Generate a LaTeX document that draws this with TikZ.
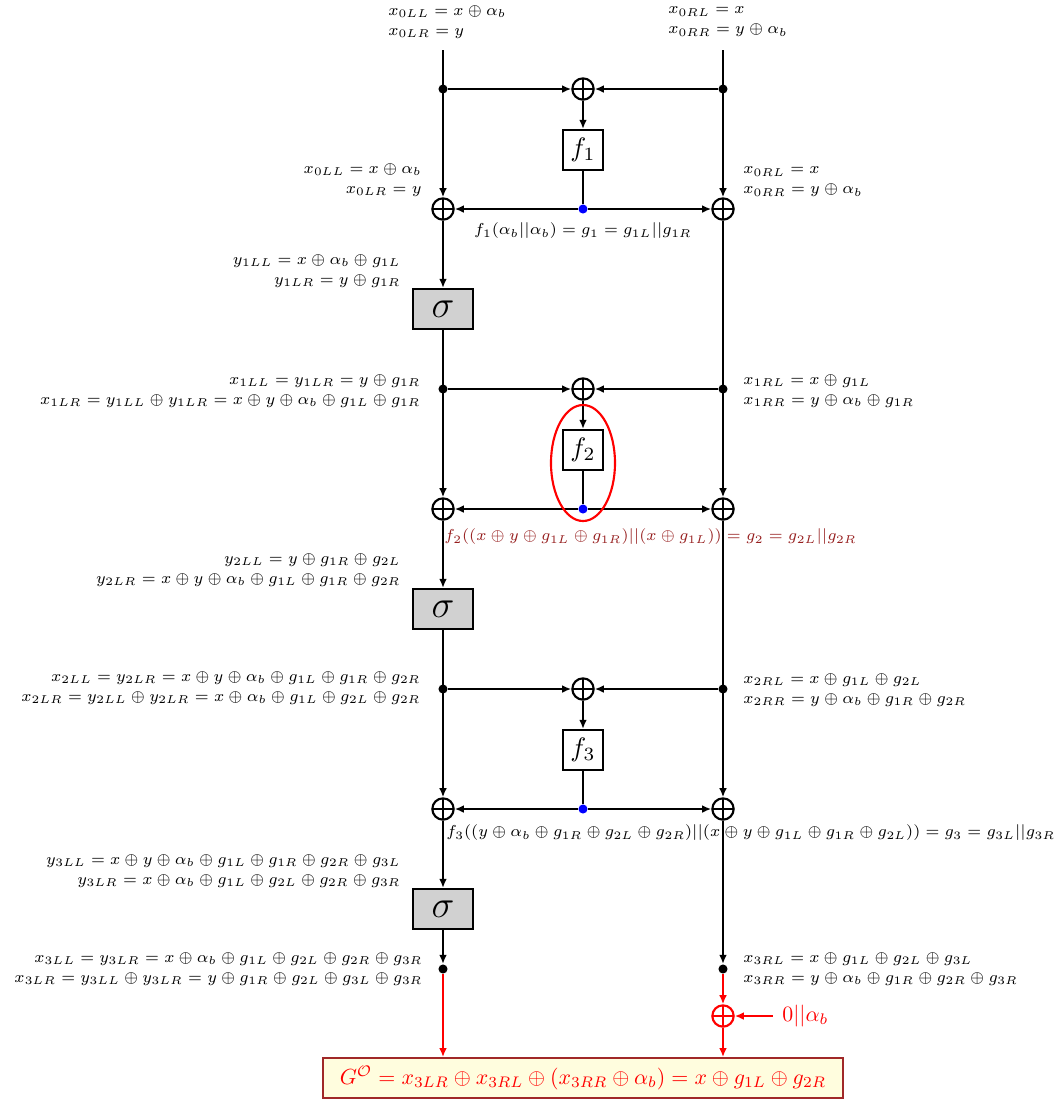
\documentclass[tikz,border=0pt]{standalone}
\usepackage{amsmath,amssymb}
\usetikzlibrary{arrows.meta,positioning,calc}
\definecolor{darkred}{RGB}{150,30,30}
\definecolor{boxred}{RGB}{160,40,40}
\definecolor{cream}{RGB}{255,253,222}
\tikzset{
  arr/.style={-{Latex[length=3.4pt,width=2.9pt]},thick},
  xorn/.style={circle,draw,thick,minimum size=8pt,inner sep=0pt,
    path picture={\draw[thick] (path picture bounding box.north)--(path picture bounding box.south)
      (path picture bounding box.west)--(path picture bounding box.east);}},
  fbox/.style={draw,thick,fill=white,minimum size=15pt,inner sep=1pt},
  sbox/.style={draw,thick,fill=black!18,minimum width=22.5pt,minimum height=15pt,inner sep=0pt,font=\Large},
  dot/.style={circle,fill=black,inner sep=0pt,minimum size=3.4pt},
  bdot/.style={circle,fill=blue,inner sep=0pt,minimum size=3.4pt},
  lab/.style={font=\fontsize{7}{8.8}\selectfont,scale=0.85,transform shape,inner sep=0pt},
  big/.style={scale=0.82,transform shape}
}
\begin{document}
\begin{tikzpicture}[x=0.375pt,y=-0.375pt]
  \useasboundingbox (0,0) rectangle (1062,1099);
  \coordinate (tl) at (443,50);
  \coordinate (tr) at (723,50);
  % one round per Feistel layer
  \foreach \i in {1,2,3}{
    \pgfmathsetmacro{\y}{300*(\i-1)}
    \node[dot] (dl\i) at (443,89+\y) {};
    \node[dot] (dr\i) at (723,89+\y) {};
    \node[xorn] (xm\i) at (583,89+\y) {};
    \node[fbox] (f\i) at (583,150+\y) {$f_\i$};
    \node[bdot] (b\i) at (583,209+\y) {};
    \node[xorn] (xl\i) at (443,209+\y) {};
    \node[xorn] (xr\i) at (723,209+\y) {};
    \node[sbox] (s\i) at (443,309+\y) {$\sigma$};
    \draw[arr] (dl\i) -- (xm\i);
    \draw[arr] (dr\i) -- (xm\i);
    \draw[arr] (xm\i) -- (f\i);
    \draw[thick] (f\i) -- (b\i);
    \draw[arr] (b\i) -- (xl\i);
    \draw[arr] (b\i) -- (xr\i);
  }
  \node[dot] (dl4) at (443,969) {};
  \node[dot] (dr4) at (723,969) {};
  % columns
  \draw[arr] (tl) -- (xl1);
  \draw[arr] (tr) -- (xr1);
  \foreach \i [count=\j from 2] in {1,2}{
    \draw[arr] (xl\i) -- (s\i);
    \draw[arr] (s\i) -- (xl\j);
    \draw[arr] (xr\i) -- (xr\j);
  }
  \draw[arr] (xl3) -- (s3);
  \draw[arr] (s3) -- (dl4);
  \draw[arr] (xr3) -- (dr4);
  \draw[red,thick] (583,463) ellipse [x radius=12pt,y radius=21.75pt];

  % output
  \node[big,draw=boxred,thick,fill=cream,minimum width=237.8pt,minimum height=18.3pt,inner sep=0pt,text=red] (G) at (583,1078)
    {$G^{\mathcal{O}}=x_{3LR}\oplus x_{3RL}\oplus(x_{3RR}\oplus\alpha_b)=x\oplus g_{1L}\oplus g_{2R}$};
  \node[xorn,draw=red,path picture={\draw[red,thick] (path picture bounding box.north)--(path picture bounding box.south)
      (path picture bounding box.west)--(path picture bounding box.east);}] (rx) at (723,1016) {};
  \node[big,anchor=west,text=red,inner sep=0pt] (zero) at (782,1016) {$0||\alpha_b$};
  \draw[arr,red] (dl4) -- (G.north -| dl4);
  \draw[arr,red] (dr4) -- (rx);
  \draw[arr,red] (rx) -- (G.north -| rx);
  \draw[arr,red] ([xshift=-3.4pt]zero.west) -- (rx);

  % labels
  \node[lab,anchor=west,align=left] at (388,22) {$x_{0LL}=x\oplus\alpha_b$\\$x_{0LR}=y$};
  \node[lab,anchor=west,align=left] at (668,22) {$x_{0RL}=x$\\$x_{0RR}=y\oplus\alpha_b$};
  \node[lab,anchor=east,align=right] at (422,180) {$x_{0LL}=x\oplus\alpha_b$\\$x_{0LR}=y$};
  \node[lab,anchor=west,align=left] at (743,182) {$x_{0RL}=x$\\$x_{0RR}=y\oplus\alpha_b$};
  \node[lab] at (583,231) {$f_1(\alpha_b||\alpha_b)=g_1=g_{1L}||g_{1R}$};
  \node[lab,anchor=east,align=right] at (401,271) {$y_{1LL}=x\oplus\alpha_b\oplus g_{1L}$\\$y_{1LR}=y\oplus g_{1R}$};
  \node[lab,anchor=east,align=right] at (421,391) {$x_{1LL}=y_{1LR}=y\oplus g_{1R}$\\$x_{1LR}=y_{1LL}\oplus y_{1LR}=x\oplus y\oplus\alpha_b\oplus g_{1L}\oplus g_{1R}$};
  \node[lab,anchor=west,align=left] at (743,391) {$x_{1RL}=x\oplus g_{1L}$\\$x_{1RR}=y\oplus\alpha_b\oplus g_{1R}$};
  \node[lab,anchor=west,text=darkred] at (444,537) {$f_2((x\oplus y\oplus g_{1L}\oplus g_{1R})||(x\oplus g_{1L}))=g_2=g_{2L}||g_{2R}$};
  \node[lab,anchor=east,align=right] at (401,570) {$y_{2LL}=y\oplus g_{1R}\oplus g_{2L}$\\$y_{2LR}=x\oplus y\oplus\alpha_b\oplus g_{1L}\oplus g_{1R}\oplus g_{2R}$};
  \node[lab,anchor=east,align=right] at (421,688) {$x_{2LL}=y_{2LR}=x\oplus y\oplus\alpha_b\oplus g_{1L}\oplus g_{1R}\oplus g_{2R}$\\$x_{2LR}=y_{2LL}\oplus y_{2LR}=x\oplus\alpha_b\oplus g_{1L}\oplus g_{2L}\oplus g_{2R}$};
  \node[lab,anchor=west,align=left] at (743,690) {$x_{2RL}=x\oplus g_{1L}\oplus g_{2L}$\\$x_{2RR}=y\oplus\alpha_b\oplus g_{1R}\oplus g_{2R}$};
  \node[lab,anchor=west] at (446,833) {$f_3((y\oplus\alpha_b\oplus g_{1R}\oplus g_{2L}\oplus g_{2R})||(x\oplus y\oplus g_{1L}\oplus g_{1R}\oplus g_{2L}))=g_3=g_{3L}||g_{3R}$};
  \node[lab,anchor=east,align=right] at (401,871) {$y_{3LL}=x\oplus y\oplus\alpha_b\oplus g_{1L}\oplus g_{1R}\oplus g_{2R}\oplus g_{3L}$\\$y_{3LR}=x\oplus\alpha_b\oplus g_{1L}\oplus g_{2L}\oplus g_{2R}\oplus g_{3R}$};
  \node[lab,anchor=east,align=right] at (423,969) {$x_{3LL}=y_{3LR}=x\oplus\alpha_b\oplus g_{1L}\oplus g_{2L}\oplus g_{2R}\oplus g_{3R}$\\$x_{3LR}=y_{3LL}\oplus y_{3LR}=y\oplus g_{1R}\oplus g_{2L}\oplus g_{3L}\oplus g_{3R}$};
  \node[lab,anchor=west,align=left] at (743,969) {$x_{3RL}=x\oplus g_{1L}\oplus g_{2L}\oplus g_{3L}$\\$x_{3RR}=y\oplus\alpha_b\oplus g_{1R}\oplus g_{2R}\oplus g_{3R}$};
\end{tikzpicture}
\end{document}
